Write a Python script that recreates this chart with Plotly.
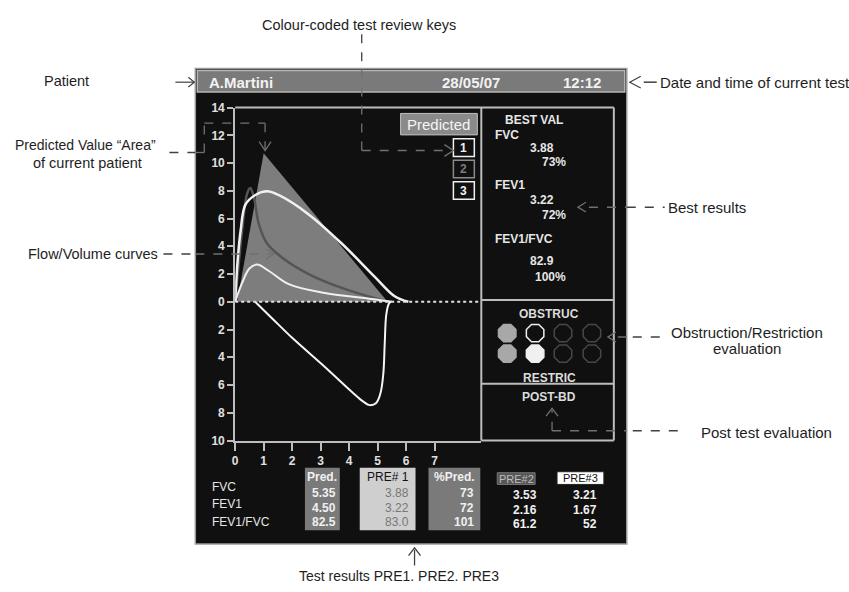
import plotly.graph_objects as go

W, H = 849, 592

# ---------------- data ----------------
pred_area_x = [0.07, 1.0, 5.35, 0.07]
pred_area_y = [0.0, 10.7, 0.0, 0.0]

grey_curve_x = [0.0, 0.1, 0.24, 0.42, 0.53, 0.66, 0.83, 1.12, 1.64, 2.58, 3.74, 5.0, 5.38]
grey_curve_y = [0.0, 2.2, 5.1, 7.8, 8.2, 7.5, 5.6, 4.2, 3.2, 2.0, 1.0, 0.2, 0.0]

big_curve_x = [0.0, 0.08, 0.19, 0.36, 0.71, 1.12, 1.52, 2.58, 3.74, 4.9, 5.6, 6.08]
big_curve_y = [0.0, 2.8, 5.1, 7.0, 7.7, 7.96, 7.7, 6.3, 4.2, 1.8, 0.4, 0.0]

small_curve_x = [0.0, 0.24, 0.5, 0.77, 1.2, 1.88, 3.15, 4.8, 5.5]
small_curve_y = [0.0, 1.34, 2.4, 2.68, 2.2, 1.27, 0.63, 0.2, 0.0]

insp_x = [0.7, 1.3, 2.0, 3.15, 4.1, 4.5, 4.72, 4.95, 5.1, 5.2, 5.25, 5.3, 5.38, 5.45]
insp_y = [0.0, -1.2, -2.6, -4.7, -6.5, -7.2, -7.45, -7.3, -6.6, -5.2, -3.0, -1.0, -0.2, 0.0]

y_tick_vals = [-10, -8, -6, -4, -2, 0, 2, 4, 6, 8, 10, 12, 14]
y_tick_text = ["10", "8", "6", "4", "2", "0", "2", "4", "6", "8", "10", "12", "14"]
x_tick_vals = [0, 1, 2, 3, 4, 5, 6, 7]
x_tick_text = ["0", "1", "2", "3", "4", "5", "6", "7"]

patient_name = "A.Martini"
test_date = "28/05/07"
test_time = "12:12"

best_labels = ["FVC", "FEV1", "FEV1/FVC"]
best_values = ["3.88", "3.22", "82.9"]
best_pcts = ["73%", "72%", "100%"]

table_rows = ["FVC", "FEV1", "FEV1/FVC"]
pred_vals = ["5.35", "4.50", "82.5"]
pre1_vals = ["3.88", "3.22", "83.0"]
pct_pred_vals = ["73", "72", "101"]
pre2_vals = ["3.53", "2.16", "61.2"]
pre3_vals = ["3.21", "1.67", "52"]

obstruc_states = ["grey", "ring", "off", "off"]
restric_states = ["grey", "white", "off", "off"]

key_labels = ["1", "2", "3"]

# ---------------- helpers ----------------
def PX(x):
    return x / W

def PY(y):
    return 1 - y / H

shapes = []
annots = []
FONT = "Liberation Sans, Arial, sans-serif"


def rect(x0, y0, x1, y1, fill=None, line=None, lw=1, layer="below"):
    shapes.append(dict(type="rect", xref="paper", yref="paper",
                       x0=PX(x0), x1=PX(x1), y0=PY(y1), y1=PY(y0),
                       fillcolor=fill if fill else "rgba(0,0,0,0)",
                       line=dict(color=line if line else "rgba(0,0,0,0)", width=lw if line else 0),
                       layer=layer))


def seg(x0, y0, x1, y1, color, lw=1.5, dash="solid", layer="above"):
    shapes.append(dict(type="line", xref="paper", yref="paper",
                       x0=PX(x0), x1=PX(x1), y0=PY(y0), y1=PY(y1),
                       line=dict(color=color, width=lw, dash=dash), layer=layer))


def poly(points, color, lw=1.5, fill=None, closed=False, layer="above"):
    d = "M " + " L ".join(f"{PX(x):.5f},{PY(y):.5f}" for x, y in points)
    if closed:
        d += " Z"
    shapes.append(dict(type="path", xref="paper", yref="paper", path=d,
                       fillcolor=fill if fill else "rgba(0,0,0,0)",
                       line=dict(color=color, width=lw), layer=layer))


def text(x, y, s, size=15, color="#1e1e1e", anchor="center", bold=False):
    if bold:
        s = f"<b>{s}</b>"
    annots.append(dict(x=PX(x), y=PY(y), xref="paper", yref="paper", text=s,
                       showarrow=False, xanchor=anchor, yanchor="middle",
                       font=dict(family=FONT, size=size, color=color)))


def octagon(cx, cy, r, fill, line):
    import math
    pts = []
    for i in range(8):
        a = math.pi / 8 + i * math.pi / 4
        pts.append((cx + r * math.cos(a), cy + r * math.sin(a)))
    poly(pts, line, lw=1.5, fill=fill, closed=True)


# ---------------- screen background ----------------
rect(193, 63, 626, 550, fill="#101010", line="#9a9a9a", lw=1.5)
rect(195, 65, 624, 87, fill="#7a7a7a", line="#b5b5b5", lw=1.5)
text(205, 77, patient_name, size=15, color="#f2f2f2", anchor="left", bold=True)
text(470, 77, test_date, size=15, color="#f2f2f2", bold=True)
text(581, 77, test_time, size=15, color="#f2f2f2", bold=True)

# frame lines
FR = "#bdbdbd"
seg(233, 103, 613, 103, FR, 2)
seg(613, 103, 613, 444, FR, 2)
seg(480, 444, 613, 444, FR, 2)
seg(480, 103, 480, 444, FR, 2)
seg(480, 300, 613, 300, FR, 2)
seg(480, 386, 613, 386, FR, 2)

# Predicted key
rect(399, 109, 476, 131, fill="#8a8a8a", line="#c0c0c0", lw=1, layer="above")
text(437.5, 120, "Predicted", size=15, color="#f5f5f5")
key_colors = [("#f0f0f0", "#f0f0f0"), ("#8a8a8a", "#7a7a7a"), ("#f0f0f0", "#f0f0f0")]
for i, lab in enumerate(key_labels):
    y0 = 135 + i * 22
    rect(452, y0, 473, y0 + 18, fill="#101010", line=key_colors[i][0], lw=1.5, layer="above")
    text(462.5, y0 + 9, lab, size=12, color=key_colors[i][1], bold=True)

# Best values panel
TC = "#e6e6e6"
text(533, 116, "BEST VAL", size=12, color=TC, bold=True)
best_rows_y = [(131, 144, 159), (182, 198, 213), (238, 260, 277)]
for lab, val, pct, (yl, yv, yp) in zip(best_labels, best_values, best_pcts, best_rows_y):
    text(492, yl, lab, size=12, color=TC, anchor="left", bold=True)
    text(555, yv, val, size=12, color=TC, anchor="right", bold=True)
    text(567, yp, pct, size=12, color=TC, anchor="right", bold=True)

# Obstruction / restriction
text(548, 314, "OBSTRUC", size=12, color="#dcdcdc", bold=True)
text(548, 380, "RESTRIC", size=12, color="#dcdcdc", bold=True)
col_x = [506, 534, 562, 591]
state_style = {"grey": ("#a8a8a8", "#a8a8a8"), "ring": ("#101010", "#eeeeee"),
               "white": ("#f0f0f0", "#f0f0f0"), "off": ("#101010", "#474747")}
for cx, st in zip(col_x, obstruc_states):
    f, l = state_style[st]
    octagon(cx, 334, 9.5, f, l)
for cx, st in zip(col_x, restric_states):
    f, l = state_style[st]
    octagon(cx, 355, 9.5, f, l)
text(548, 399, "POST-BD", size=12, color="#dcdcdc", bold=True)

# Results table
for lab, y in zip(table_rows, [492, 509, 527]):
    text(208, y, lab, size=12, color=TC, anchor="left", bold=False)
rect(303, 472, 338, 536, fill="#7a7a7a", layer="above")
rect(358, 472, 414, 536, fill="#cfcfcf", layer="above")
rect(427, 472, 479, 536, fill="#7a7a7a", layer="above")
text(320.5, 481, "Pred.", size=12, color="#f0f0f0", bold=True)
text(386, 481, "PRE# 1", size=12, color="#111111", bold=False)
text(453, 481, "%Pred.", size=12, color="#f0f0f0", bold=True)
rect(496, 477, 534, 489, fill="#555555", line="#777777", lw=1, layer="above")
text(515, 483, "PRE#2", size=11, color="#bdbdbd")
rect(556, 476, 603, 489, fill="#ffffff", line="#222222", lw=1, layer="above")
text(579.5, 482.5, "PRE#3", size=11, color="#111111")
for i, y in enumerate([498, 513, 527]):
    text(336, y, pred_vals[i], size=12, color="#f0f0f0", anchor="right", bold=True)
    text(409, y, pre1_vals[i], size=12, color="#777777", anchor="right")
    text(475, y, pct_pred_vals[i], size=12, color="#f0f0f0", anchor="right", bold=True)
for i, y in enumerate([500, 515, 530]):
    text(538, y, pre2_vals[i], size=12, color="#f0f0f0", anchor="right", bold=True)
    text(598, y, pre3_vals[i], size=12, color="#f0f0f0", anchor="right", bold=True)

# ---------------- callouts ----------------
DK = "#404040"
GR = "#707070"
text(357, 18, "Colour-coded test review keys", size=14.5)
seg(360, 28, 360, 64, DK, 1.3, "dash")
seg(360, 64, 360, 147, GR, 1.3, "dash")
seg(360, 147, 450, 147, GR, 1.3, "dash")
poly([(443, 141), (452, 147), (443, 153)], GR, 1.3)

text(64, 76, "Patient", size=14.5)
seg(173, 77, 192, 77, DK, 1.2)
poly([(186, 72), (192, 77), (186, 82)], DK, 1.2)

text(657, 77, "Date and time of current test", size=15, anchor="left")
poly([(640, 71), (629, 77), (640, 83)], DK, 1.2)
seg(643, 77, 656, 77, DK, 1.5)

text(83, 141, "Predicted Value \u201cArea\u201d", size=14)
text(85, 160, "of current patient", size=14.5)
seg(167, 149, 193, 149, DK, 1.5, "dash")
seg(193, 149, 202, 149, GR, 1.3, "dash")
seg(202, 149, 202, 119, GR, 1.3, "dash")
seg(202, 119, 263, 119, GR, 1.3, "dash")
seg(263, 119, 263, 146, GR, 1.3, "dash")
poly([(257, 138), (263, 147), (269, 138)], GR, 1.3)

text(90, 253, "Flow/Volume curves", size=14.5)
seg(161, 253, 193, 253, DK, 1.5, "dash")
seg(193, 253, 271, 253, GR, 1.3, "dash")
poly([(264, 248), (272, 253), (264, 258)], GR, 1.3)

text(665, 205, "Best results", size=15, anchor="left")
poly([(585, 200), (577, 205), (585, 210)], GR, 1.3)
seg(588, 205, 626, 205, GR, 1.5, "dash")
seg(626, 205, 664, 205, DK, 1.5, "dash")

text(747, 333, "Obstruction/Restriction", size=15)
text(747, 350, "evaluation", size=15)
poly([(615, 333), (607, 338), (615, 343)], GR, 1.3)
seg(617, 338, 626, 338, GR, 1.5, "dash")
seg(632, 338, 667, 338, DK, 1.5, "dash")

text(698, 436, "Post test evaluation", size=15, anchor="left")
seg(551, 434, 551, 413, GR, 1.3, "dash")
poly([(545, 419), (551, 411), (557, 419)], GR, 1.3)
seg(551, 434, 626, 434, GR, 1.5, "dash")
seg(632, 434, 685, 434, DK, 1.5, "dash")

text(397, 583, "Test results PRE1. PRE2. PRE3", size=14)
seg(413, 556, 413, 572, DK, 1.3)
poly([(407, 562), (413, 554), (419, 562)], DK, 1.3)

# ---------------- traces ----------------
fig = go.Figure()
fig.add_trace(go.Scatter(x=pred_area_x, y=pred_area_y, fill="toself", fillcolor="#7d7d7d",
                         mode="lines", line=dict(color="#7d7d7d", width=0), hoverinfo="skip"))
fig.add_trace(go.Scatter(x=grey_curve_x, y=grey_curve_y, mode="lines",
                         line=dict(color="#555555", width=2.5, shape="spline"), hoverinfo="skip"))
fig.add_trace(go.Scatter(x=big_curve_x, y=big_curve_y, mode="lines",
                         line=dict(color="#f0f0f0", width=2.5, shape="spline"), hoverinfo="skip"))
fig.add_trace(go.Scatter(x=small_curve_x, y=small_curve_y, mode="lines",
                         line=dict(color="#f0f0f0", width=2, shape="spline"), hoverinfo="skip"))
fig.add_trace(go.Scatter(x=insp_x, y=insp_y, mode="lines",
                         line=dict(color="#f5f5f5", width=2, shape="spline"), hoverinfo="skip"))

# dotted zero line across the plot
shapes.append(dict(type="line", xref="x", yref="y", x0=0, x1=8.64, y0=0, y1=0,
                   line=dict(color="#e0e0e0", width=1.8, dash="dot"), layer="above"))

fig.update_layout(
    width=W, height=H, margin=dict(l=0, r=0, t=0, b=0),
    paper_bgcolor="#ffffff", plot_bgcolor="rgba(0,0,0,0)",
    showlegend=False, shapes=shapes, annotations=annots,
    font=dict(family=FONT),
    xaxis=dict(domain=[PX(233), PX(480)], range=[0, 8.64], showgrid=False, zeroline=False,
               showline=True, linecolor=FR, linewidth=2, ticks="outside", ticklen=8,
               tickcolor=FR, tickwidth=2, tickvals=x_tick_vals,
               ticktext=[f"<b>{t}</b>" for t in x_tick_text],
               tickfont=dict(family=FONT, size=12, color="#e0e0e0"), fixedrange=True),
    yaxis=dict(domain=[PY(444), PY(103)], range=[-10, 14], showgrid=False, zeroline=False,
               showline=True, linecolor=FR, linewidth=2, ticks="outside", ticklen=6,
               tickcolor=FR, tickwidth=2, tickvals=y_tick_vals,
               ticktext=[f"<b>{t}</b>" for t in y_tick_text],
               tickfont=dict(family=FONT, size=12, color="#e0e0e0"), fixedrange=True),
)

fig.write_html("out.html", config={"displayModeBar": False},
               post_script="document.body.style.margin='0';document.body.style.overflow='hidden';")
